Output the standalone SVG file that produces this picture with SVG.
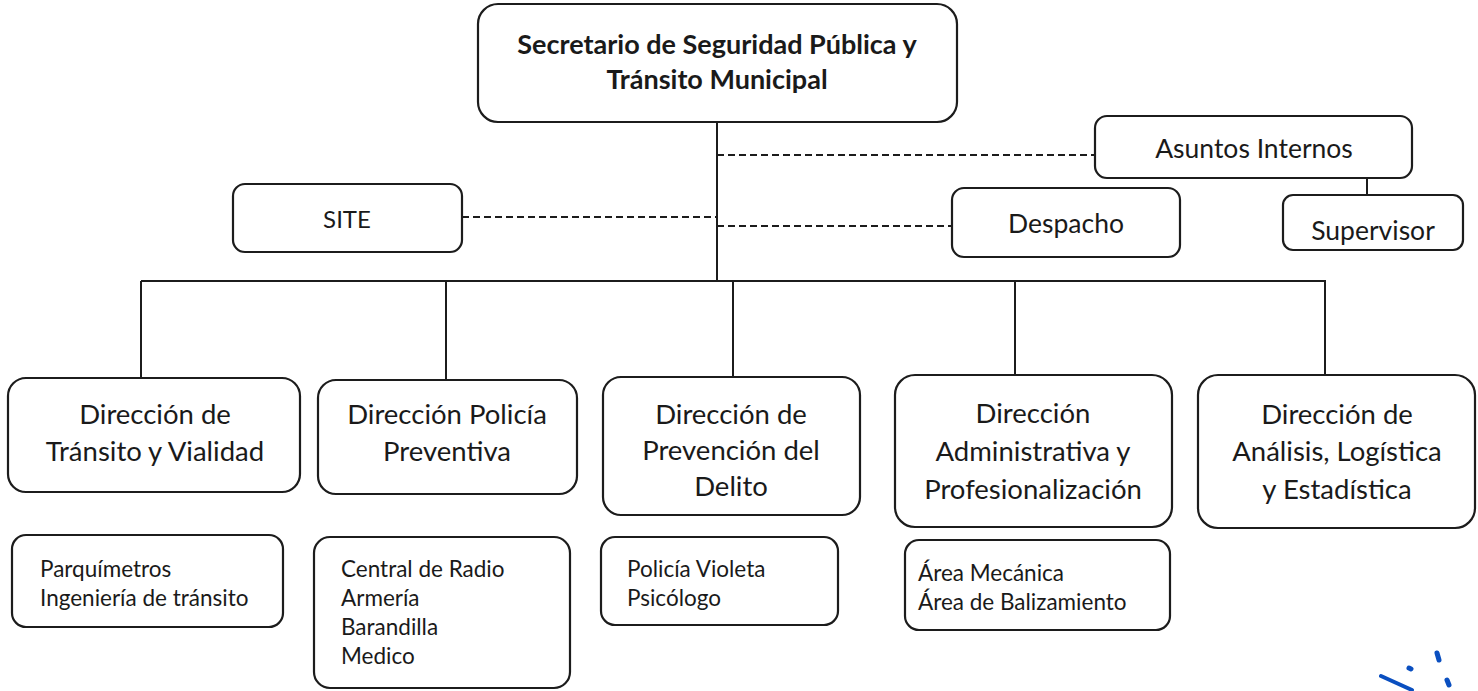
<svg xmlns="http://www.w3.org/2000/svg" width="1478" height="691" viewBox="0 0 1478 691">
<style>
.box{fill:#fff;stroke:#1c1c1c;stroke-width:2.2}
.ln{fill:none;stroke:#1c1c1c;stroke-width:2}
.dash{fill:none;stroke:#1c1c1c;stroke-width:2.2;stroke-dasharray:7 4}
text{font-family:Lato,"Liberation Sans",sans-serif;fill:#1a1a1a}
.t{font-size:27.5px;text-anchor:middle}
.tb{font-size:27px;font-weight:bold;text-anchor:middle}
.m{font-size:26.5px;text-anchor:middle}
.s{font-size:22.5px}
.mark{fill:none;stroke:#0a4fc0;stroke-linecap:round}
</style>
<rect width="1478" height="691" fill="#fff"/>
<g id="connectors">
<path class="ln" d="M717 122V281M141 281H1326M141 281V378M446 281V380M733 281V377M1015 281V375M1325 281V375M1367 178V195"/>
<path class="dash" d="M717 155H1095M462 217H717M717 226H952"/>
</g>
<g id="secretario"><rect class="box" x="478" y="4" width="479" height="118" rx="20"/><text class="tb" x="717" y="54">Secretario de Seguridad Pública y</text><text class="tb" x="717" y="89">Tránsito Municipal</text></g>
<g id="asuntos"><rect class="box" x="1095" y="116" width="317" height="62" rx="12"/><text class="m" x="1254" y="158">Asuntos Internos</text></g>
<g id="supervisor"><rect class="box" x="1283" y="195" width="180" height="55" rx="10"/><text class="m" x="1373" y="240">Supervisor</text></g>
<g id="despacho"><rect class="box" x="952" y="188" width="228" height="69" rx="12"/><text class="m" x="1066" y="233">Despacho</text></g>
<g id="site"><rect class="box" x="233" y="184" width="229" height="68" rx="12"/><text class="m" x="347" y="228" style="font-size:24px">SITE</text></g>
<g id="dir-transito"><rect class="box" x="8" y="378" width="292" height="114" rx="18"/><text class="t" x="155" y="424">Dirección de</text><text class="t" x="155" y="461">Tránsito y Vialidad</text></g>
<g id="dir-policia"><rect class="box" x="318" y="380" width="259" height="114" rx="18"/><text class="t" x="447" y="424">Dirección Policía</text><text class="t" x="447" y="461">Preventiva</text></g>
<g id="dir-prevencion"><rect class="box" x="603" y="377" width="257" height="138" rx="18"/><text class="t" x="731" y="424">Dirección de</text><text class="t" x="731" y="460">Prevención del</text><text class="t" x="731" y="496">Delito</text></g>
<g id="dir-admin"><rect class="box" x="895" y="375" width="277" height="152" rx="20"/><text class="t" x="1033" y="423">Dirección</text><text class="t" x="1033" y="461">Administrativa y</text><text class="t" x="1033" y="499">Profesionalización</text></g>
<g id="dir-analisis"><rect class="box" x="1198" y="375" width="277" height="153" rx="20"/><text class="t" x="1337" y="424">Dirección de</text><text class="t" x="1337" y="461">Análisis, Logística</text><text class="t" x="1337" y="499">y Estadística</text></g>
<g id="sub-transito"><rect class="box" x="12" y="535" width="271" height="92" rx="14"/><text class="s" x="40" y="577">Parquímetros</text><text class="s" x="40" y="606">Ingeniería de tránsito</text></g>
<g id="sub-policia"><rect class="box" x="314" y="537" width="256" height="151" rx="16"/><text class="s" x="341" y="577">Central de Radio</text><text class="s" x="341" y="606">Armería</text><text class="s" x="341" y="635">Barandilla</text><text class="s" x="341" y="664">Medico</text></g>
<g id="sub-prevencion"><rect class="box" x="601" y="537" width="237" height="88" rx="14"/><text class="s" x="627" y="577">Policía Violeta</text><text class="s" x="627" y="606">Psicólogo</text></g>
<g id="sub-admin"><rect class="box" x="905" y="540" width="265" height="90" rx="14"/><text class="s" x="918" y="581">Área Mecánica</text><text class="s" x="918" y="610">Área de Balizamiento</text></g>
<g id="marks"><path class="mark" stroke-width="4" d="M1381 676L1412 690"/><path class="mark" stroke-width="5" d="M1409 668L1411 669M1437 653L1439 660M1447 680L1449 685"/></g>
</svg>
